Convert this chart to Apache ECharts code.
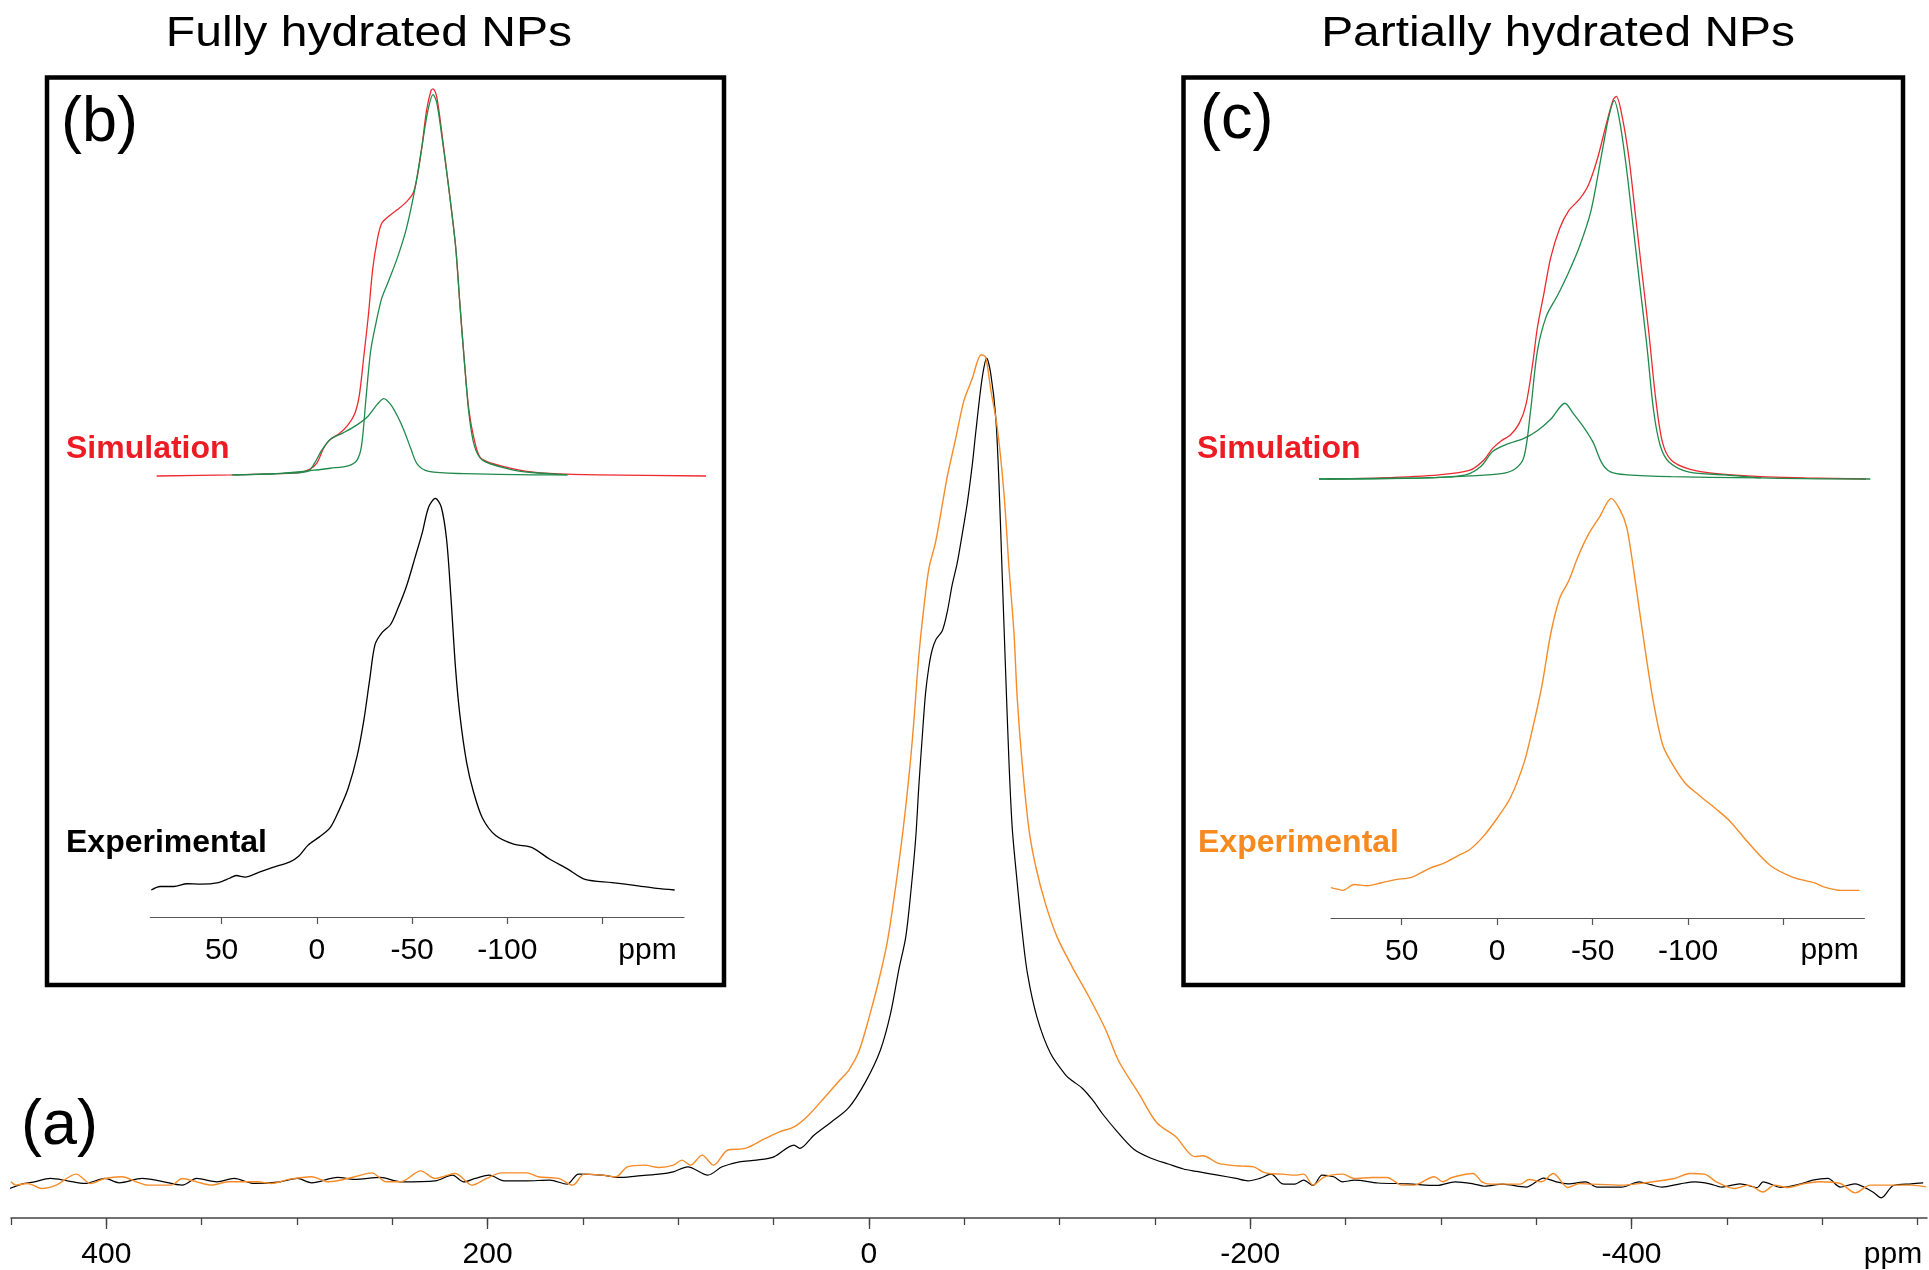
<!DOCTYPE html>
<html>
<head>
<meta charset="utf-8">
<script src="https://cdn.jsdelivr.net/npm/echarts@6/dist/echarts.min.js"></script>
<style>
html, body { margin: 0; padding: 0; background: #fff; }
#main { width: 1929px; height: 1270px; }
</style>
</head>
<body>
<div id="main"></div>
<script>
// (a) full spectra, [ppm, intensity] with the black peak = 100
const fullyMain = [
    [451, -0.8], [444, -0.2], [438.4, 0.0], [429.3, 0.45], [420.3, 0.16], [411.3, -0.16], [400.7, 0.45],
    [393.2, -0.08], [381.2, 0.45], [372.1, 0.16], [360.1, -0.36], [352.6, 0.45], [342, 0.04], [333, 0.45],
    [322.4, -0.16], [308.9, 0.04], [299.8, 0.45], [292.3, -0.08], [278.7, 0.57], [269.7, 0.33], [256.2, 0.57],
    [245.6, 0.04], [227.5, 0.16], [218.5, 0.85], [212.5, 0.04], [206.5, 0.45], [199, 0.85], [191.4, 0.16],
    [179.4, 0.16], [167.4, 0.24], [158.3, -0.24], [152.3, 0.97], [140.2, 0.85], [131.2, 0.57], [122.1, 0.73],
    [110.2, 0.97], [102.6, 1.25], [95, 1.86], [84.5, 0.85], [77, 1.86], [68, 2.47], [58.9, 2.67], [49.8, 3.07],
    [39.3, 4.5], [36.3, 4.1], [28.8, 5.7], [19.7, 7.3], [10.7, 9.0], [1.7, 12.2], [-6, 16.0], [-11.4, 20.5],
    [-15.7, 25.8], [-19.3, 29.7], [-21.9, 35], [-24.5, 41.6], [-26.2, 48.1], [-28, 54.1], [-29.7, 59.3],
    [-31.5, 62.6], [-33.2, 64.6], [-35.3, 65.9], [-38.5, 66.9], [-41.1, 69.2], [-43.7, 72.5], [-46.3, 75.1],
    [-49, 78.7], [-51.6, 82.4], [-54.2, 87], [-56, 90.9], [-58.6, 96.2], [-60.3, 98.8], [-61.7, 100],
    [-63.9, 98.1], [-66.5, 92.9], [-68.2, 85], [-69.9, 73.8], [-71.7, 62], [-73.5, 50.8], [-75.2, 42.9],
    [-77.8, 36.3], [-80.1, 31], [-83.1, 25.4], [-88.3, 19.9], [-95.3, 15.6], [-103.2, 13], [-106.7, 12.3],
    [-111.9, 11.4], [-117.2, 10.0], [-122.5, 8.3], [-130, 6.2], [-139, 4.0], [-148, 2.9], [-157, 2.2],
    [-165, 1.6], [-172, 1.3], [-183, 0.85], [-192.6, 0.45], [-198.8, 0.16], [-205, 0.45], [-211, 0.97],
    [-217, -0.2], [-223.5, -0.24], [-228, 0.24], [-233, -0.4], [-237.7, 0.85], [-243.8, 0.65], [-248.5, 0.04],
    [-254.7, 0.24], [-267, -0.1], [-282.7, -0.2], [-298, -0.4], [-307.5, 0.04], [-317, -0.2], [-323, -0.5],
    [-332.4, -0.24], [-344.7, -0.6], [-354, 0.5], [-360.5, 0.04], [-366.6, -0.2], [-376, 0.04], [-382, -0.6],
    [-394.8, -0.6], [-404, 0.04], [-410, -0.3], [-416, -0.6], [-425.6, -0.2], [-433.5, 0.04], [-441, -0.2],
    [-447.4, -0.6], [-456.8, -0.2], [-466, -0.65], [-469, 0.04], [-478.4, -0.65], [-489, -0.2], [-495, 0.24],
    [-503, 0.45], [-509.5, -0.6], [-517, -0.2], [-526.6, -1.2], [-531, -1.9], [-537.4, -0.4], [-546.8, -0.2],
    [-553, -0.1]
];
const partialMain = [
    [450, 0.04], [447.4, -0.36], [441.4, -0.16], [433.9, -0.77], [426.3, -0.36], [415.8, 0.97], [408.3, -0.16],
    [400.7, 0.45], [391.7, 0.65], [384.2, 0.04], [378.1, -0.36], [366.1, -0.36], [360.1, 0.45], [352.6, 0.04],
    [345, -0.36], [336, 0.04], [320.9, 0.04], [313.4, -0.16], [304.4, 0.33], [292.3, 0.65], [283.3, 0.04],
    [269.7, 0.65], [260.7, 1.13], [253.2, 0.04], [245.6, 0.04], [235.1, 1.37], [227.5, 0.45], [217, 1.05],
    [208, -0.36], [200.5, 0.45], [192.9, 1.13], [179.4, 1.13], [173.4, 0.65], [162.8, 0.45], [155.3, -0.36],
    [149.3, 0.97], [140.2, 0.85], [132.7, 0.65], [126.7, 1.86], [117.6, 2.06], [110.1, 1.78], [102.6, 2.06],
    [98.1, 2.67], [93.5, 2.06], [87.5, 3.28], [81.5, 2.06], [74, 3.9], [64.9, 4.09], [54.4, 5.3], [46.9, 6.1],
    [39.3, 6.7], [31.8, 8.1], [22.8, 10.4], [15.2, 12.4], [10.5, 13.6], [5.2, 15.9], [0, 19.9], [-5.2, 24.5],
    [-9.6, 29.1], [-13.1, 34.3], [-16.6, 40.3], [-19.3, 45.5], [-21.9, 51.4], [-23.6, 56], [-26.2, 63.9],
    [-28.9, 69.9], [-31.5, 74.5], [-35, 77.7], [-37.6, 81], [-41.1, 85.6], [-45.5, 90.2], [-49.8, 94.8],
    [-54.2, 97.5], [-58.9, 100.4], [-61.2, 100.1], [-63.9, 96.2], [-67.3, 91.6], [-70.8, 83.7], [-73.5, 74.5],
    [-76.1, 66.6], [-77.8, 58.7], [-80.4, 50.8], [-83.9, 42.9], [-87.5, 38.3], [-92.7, 33.7], [-98.8, 29.7],
    [-106.7, 26.1], [-115.4, 22.5], [-124.2, 18.5], [-131, 14.7], [-141.7, 10.7], [-151, 7.2], [-161, 5.5],
    [-170.8, 3.1], [-175.3, 3.2], [-183, 2.3], [-189.4, 2.06], [-196, 1.94], [-201.8, 1.86], [-206.5, 1.25],
    [-209.6, 1.05], [-217, 0.97], [-223.5, 0.85], [-228, 0.97], [-233, -0.36], [-239, 0.65], [-248.5, 0.97],
    [-254.7, 0.45], [-264, 0.57], [-271.8, 0.57], [-279.5, -0.36], [-285.8, -0.36], [-296.6, 0.65], [-301, 0.04],
    [-305.8, 0.57], [-316.9, 1.05], [-321.5, 0.04], [-326, -0.24], [-341.6, -0.24], [-346.3, 0.33],
    [-352.6, 0.04], [-359, 1.05], [-366.6, -0.65], [-372.8, -0.16], [-379, -0.24], [-394.8, -0.36],
    [-407, -0.08], [-422.6, 0.45], [-430.5, 1.05], [-438.3, 0.97], [-444.5, 0.04], [-453.8, -0.77],
    [-461.4, -0.36], [-469, -1.2], [-475, -0.36], [-481.6, -0.65], [-491, -0.16], [-498.7, 0.04],
    [-509.5, -0.16], [-517.4, -1.3], [-525.3, -0.36], [-546.7, -0.36], [-554.5, -0.57]
];

// (b) fully hydrated inset
const fullySimTotal = [
    [84, 0], [44.6, 0.3], [21.1, 0.6], [9.4, 0.9], [3.5, 1.8], [0, 3.3], [-3.5, 7.1], [-7, 9.4], [-11.7, 10.9],
    [-16.4, 13.2], [-20, 16.2], [-22.3, 20.8], [-24.6, 30.6], [-27, 41.2], [-29.3, 53.3], [-31.7, 60.9],
    [-34, 65.2], [-37.6, 67], [-42.3, 68.8], [-47, 70.8], [-50.5, 73], [-52.8, 77.6], [-55.2, 85.2],
    [-57.5, 94.2], [-59.9, 99.5], [-61, 100], [-62.9, 98], [-65.7, 88.2], [-69.2, 74.5], [-72.8, 59.4],
    [-75.1, 44.2], [-77.5, 29.1], [-79.8, 17], [-82.6, 9.4], [-85.7, 4.8], [-91.5, 3.3], [-100.9, 2.1],
    [-110.3, 1.2], [-124.4, 0.6], [-147.9, 0.3], [-204.2, 0]
];
const fullySimSite1 = [
    [43.4, 0.3], [21.1, 0.6], [1.2, 1.5], [-7, 2.0], [-16.4, 2.6], [-21.1, 4.1], [-23.5, 7.9], [-25.8, 20],
    [-28.2, 32.1], [-30.5, 38.2], [-34, 45.8], [-37.6, 50.3], [-42.3, 56.4], [-47, 63.9], [-51.6, 74.5],
    [-55.2, 85.2], [-58.2, 94.2], [-61, 98.5], [-62.9, 96.5], [-65.7, 87.4], [-69.2, 74.5], [-72.8, 59.4],
    [-75.1, 44.2], [-77.5, 29.1], [-79.8, 16.2], [-82.6, 7.9], [-86.9, 4.1], [-100.9, 1.8], [-112.7, 0.9],
    [-131.5, 0.3]
];
const fullySimSite2 = [
    [44.6, 0.3], [21.1, 0.6], [4.7, 1.2], [1.2, 3.3], [-2.3, 6.4], [-7, 9.4], [-14.1, 11.2], [-21.1, 13.2],
    [-27, 15.5], [-31.7, 18.5], [-35.2, 20], [-38.7, 18.5], [-42.3, 15.5], [-45.8, 11.7], [-49.3, 7.1],
    [-52.8, 3.0], [-58.7, 1.2], [-77.5, 0.6], [-112.7, 0.3], [-131.5, 0.3]
];
const fullyExp = [
    [86.9, 0], [82.2, 0.9], [75.1, 0.9], [68.1, 1.6], [61, 1.5], [51.6, 1.9], [45.8, 3.0], [42.3, 3.7],
    [37.6, 3.3], [30.5, 4.5], [23.5, 5.7], [14.1, 7.2], [9.4, 8.7], [4.7, 11.4], [-1.2, 13.5], [-7, 15.9],
    [-11.7, 20.4], [-16.4, 25.9], [-21.1, 34.1], [-24.6, 43.1], [-27.7, 53.6], [-30.5, 62.6], [-34, 65.6],
    [-38.7, 67.8], [-42.3, 71.6], [-47, 77.5], [-51.6, 85], [-55.2, 91], [-58.7, 97.8], [-62.2, 100],
    [-65.3, 97.8], [-68.1, 89.5], [-70.4, 74.6], [-72.8, 56.6], [-75.1, 44.6], [-78.6, 32.6], [-82.2, 25.1],
    [-86.9, 18.4], [-93.9, 13.9], [-103.3, 11.7], [-112.7, 10.9], [-122.1, 7.9], [-131.5, 5.4], [-140.8, 2.7],
    [-154.9, 1.9], [-166.7, 1.2], [-178.4, 0.4], [-187.8, 0]
];

// (c) partially hydrated inset
const partialSimTotal = [
    [89, 0], [60.9, 0.3], [30.4, 1.1], [14.1, 2.3], [7.0, 4.9], [2.3, 8.0], [-2.3, 10.0], [-7.0, 11.5],
    [-11.7, 14.6], [-15.2, 19.5], [-18.7, 30.2], [-21.1, 39.4], [-24.6, 48.6], [-28.1, 57.8], [-32.8, 65.5],
    [-37.5, 70.1], [-43.3, 73.2], [-48, 77.0], [-52.7, 83.9], [-57.4, 93.1], [-60.9, 99.2], [-62.5, 100],
    [-65.6, 94.6], [-69.1, 83.9], [-72.6, 68.6], [-76.1, 53.2], [-79.6, 37.9], [-83.1, 21], [-86.7, 9.5],
    [-91.3, 4.9], [-100.7, 2.6], [-114.8, 1.4], [-138.2, 0.6], [-161.6, 0.3], [-193.2, 0]
];
const partialSimSite1 = [
    [93.2, 0], [37.5, 0.3], [14.1, 0.8], [-2.3, 1.4], [-9.4, 2.6], [-14.1, 5.7], [-17.6, 17.9], [-21.1, 33.3],
    [-25.8, 42.5], [-31.6, 47.9], [-37.5, 54], [-43.3, 60.9], [-49.2, 70.1], [-55, 85.4], [-58.5, 94.6],
    [-61.4, 98.9], [-64.4, 93.1], [-67.9, 80.8], [-71.4, 65.5], [-74.9, 50.2], [-78.5, 34.8], [-82, 17.9],
    [-85.5, 8.7], [-90.2, 4.4], [-100.7, 1.8], [-119.4, 1.1], [-138.2, 0.3], [-195.5, 0]
];
const partialSimSite2 = [
    [93.2, 0], [37.5, 0.3], [16.4, 1.1], [8.2, 3.4], [2.3, 7.2], [-4.7, 9.0], [-14.1, 10.6], [-21.1, 12.6],
    [-28.1, 15.6], [-35.6, 19.8], [-39.8, 17.2], [-45.7, 13.3], [-50.4, 9.5], [-55, 4.1], [-59.7, 1.8],
    [-67.9, 1.1], [-91.3, 0.6], [-138.2, 0.3]
];
const partialExp = [
    [87.1, 0.7], [84.3, 0.4], [80.8, 0], [74.9, 1.5], [67.9, 1.2], [60.9, 1.9], [53.9, 2.7], [44.5, 3.4],
    [35.1, 5.7], [28.1, 6.9], [21.1, 8.7], [14.1, 10.5], [7.0, 13.9], [0, 18.4], [-7.0, 23.7], [-14.1, 32.6],
    [-18.7, 41.6], [-23.4, 52.1], [-28.1, 65.6], [-32.8, 74.6], [-37.5, 79], [-42.2, 85], [-48, 91],
    [-53.9, 95.5], [-59.7, 100], [-64.4, 97], [-67.9, 92.5], [-71.4, 82], [-74.9, 70.1], [-78.5, 58.1],
    [-82, 47.6], [-86.7, 37.1], [-91.3, 32.6], [-98.4, 27.4], [-105.4, 24.4], [-114.8, 20.7], [-121.8, 17.7],
    [-131.1, 12.4], [-142.9, 6.4], [-154.6, 3.4], [-166.3, 1.9], [-171, 0.9], [-180.3, 0], [-189.7, 0]
];

const mainTicks = [450, 400, 350, 300, 250, 200, 150, 100, 50, 0, -50, -100, -150, -200, -250, -300, -350, -400, -450, -500, -550];
const mainMajorTicks = [400, 200, 0, -200, -400];
const mainLabels = [400, 200, 0, -200, -400];
const insetTicks = [50, 0, -50, -100, -150];
const insetLabels = [50, 0, -50, -100];

const myChart = echarts.init(document.getElementById('main'));

function line(data, color, width, xi, yi) {
    return {
        type: 'line',
        data: data,
        xAxisIndex: xi,
        yAxisIndex: yi,
        showSymbol: false,
        symbol: 'none',
        smooth: 0.3,
        clip: false,
        lineStyle: {color: color, width: width}
    };
}

function insetAxis(grid, min, max, offset, visible) {
    return {
        type: 'value', gridIndex: grid, min: min, max: max, inverse: true, offset: offset, show: visible,
        splitLine: {show: false},
        axisLine: {onZero: false, lineStyle: {color: '#555', width: 1.2}},
        axisTick: {customValues: insetTicks, length: 7, lineStyle: {color: '#555', width: 1.2}},
        axisLabel: {customValues: insetLabels, fontSize: 30, color: '#000', margin: 19, fontFamily: 'Liberation Sans, Arial'}
    };
}

function txt(x, y, text, font, fill, align, scaleX) {
    return {
        type: 'text', x: x, y: y, scaleX: scaleX || 1,
        style: {
            text: text, font: font, fill: fill,
            align: align, verticalAlign: 'middle',
            textAlign: align, textVerticalAlign: 'middle'
        }
    };
}

const black = '#000000';
const orange = '#f68b28';
const red = '#ec2a2e';
const green = '#1f8a4c';
const font30 = '30px "Liberation Sans", Arial';
const bold32 = 'bold 32px "Liberation Sans", Arial';

var option = {
    animation: false,
    backgroundColor: '#fff',
    grid: [
        {left: 11, right: 2, top: 358, bottom: 52},
        // simulation grids are wider than the visible axes so the traces run past them, same ppm scale
        {left: 135.7, right: 1211.9, top: 88.8, bottom: 794},
        {left: 150.3, right: 1245, top: 498.4, bottom: 380},
        {left: 1315.6, right: 31, top: 96.4, bottom: 791},
        {left: 1331, right: 64.6, top: 498.4, bottom: 379.6}
    ],
    xAxis: [
        {
            type: 'value', gridIndex: 0, min: -555, max: 450, inverse: true,
            splitLine: {show: false},
            axisLine: {onZero: false, lineStyle: {color: '#444', width: 1.5}},
            axisTick: {customValues: mainTicks, length: 7, lineStyle: {color: '#444', width: 1.3}},
            axisLabel: {customValues: mainLabels, fontSize: 30, color: '#000', margin: 22, fontFamily: 'Liberation Sans, Arial'}
        },
        {
            type: 'value', gridIndex: 0, min: -555, max: 450, inverse: true, position: 'bottom',
            splitLine: {show: false},
            axisLine: {show: false, onZero: false},
            axisTick: {customValues: mainMajorTicks, length: 11, lineStyle: {color: '#444', width: 1.3}},
            axisLabel: {show: false}
        },
        insetAxis(1, -210, 95, 0, false),
        insetAxis(2, -192.7, 87.4, 27, true),
        insetAxis(3, -210, 95, 0, false),
        insetAxis(4, -192.3, 87, 27.6, true)
    ],
    yAxis: [
        {type: 'value', gridIndex: 0, min: -4.35, max: 100, show: false},
        {type: 'value', gridIndex: 1, min: 0, max: 100, show: false},
        {type: 'value', gridIndex: 2, min: 0, max: 100, show: false},
        {type: 'value', gridIndex: 3, min: 0, max: 100, show: false},
        {type: 'value', gridIndex: 4, min: 0, max: 100, show: false}
    ],
    series: [
        line(fullyMain, black, 1.2, 0, 0),
        line(partialMain, orange, 1.4, 0, 0),
        line(fullySimTotal, red, 1.3, 2, 1),
        line(fullySimSite1, green, 1.3, 2, 1),
        line(fullySimSite2, green, 1.3, 2, 1),
        line(fullyExp, black, 1.3, 3, 2),
        line(partialSimTotal, red, 1.3, 4, 3),
        line(partialSimSite1, green, 1.3, 4, 3),
        line(partialSimSite2, green, 1.3, 4, 3),
        line(partialExp, orange, 1.4, 5, 4)
    ],
    graphic: [
        {type: 'rect', shape: {x: 47, y: 77.5, width: 677, height: 907.5}, style: {fill: 'none', stroke: '#000', lineWidth: 4.5}},
        {type: 'rect', shape: {x: 1183.5, y: 77.5, width: 719.5, height: 907.5}, style: {fill: 'none', stroke: '#000', lineWidth: 4.5}},
        txt(369, 34.8, 'Fully hydrated NPs', '42px "Liberation Sans", Arial', '#000', 'center', 1.145),
        txt(1558, 34.8, 'Partially hydrated NPs', '42px "Liberation Sans", Arial', '#000', 'center', 1.14),
        txt(21, 1126.3, '(a)', '63px "Liberation Sans", Arial', '#000', 'left'),
        txt(61, 123.3, '(b)', '63px "Liberation Sans", Arial', '#000', 'left'),
        txt(1200, 120.3, '(c)', '63px "Liberation Sans", Arial', '#000', 'left'),
        txt(66, 449.5, 'Simulation', bold32, '#ed1c24', 'left'),
        txt(66, 843.5, 'Experimental', bold32, '#000', 'left'),
        txt(1197, 449.5, 'Simulation', bold32, '#ed1c24', 'left'),
        txt(1198, 843.5, 'Experimental', bold32, '#f6891f', 'left'),
        txt(647.5, 951, 'ppm', font30, '#000', 'center'),
        txt(1829.6, 951, 'ppm', font30, '#000', 'center'),
        txt(1893, 1255, 'ppm', font30, '#000', 'center')
    ]
};

myChart.setOption(option);
window.addEventListener('resize', function () {
    myChart.resize();
});
</script>
</body>
</html>
